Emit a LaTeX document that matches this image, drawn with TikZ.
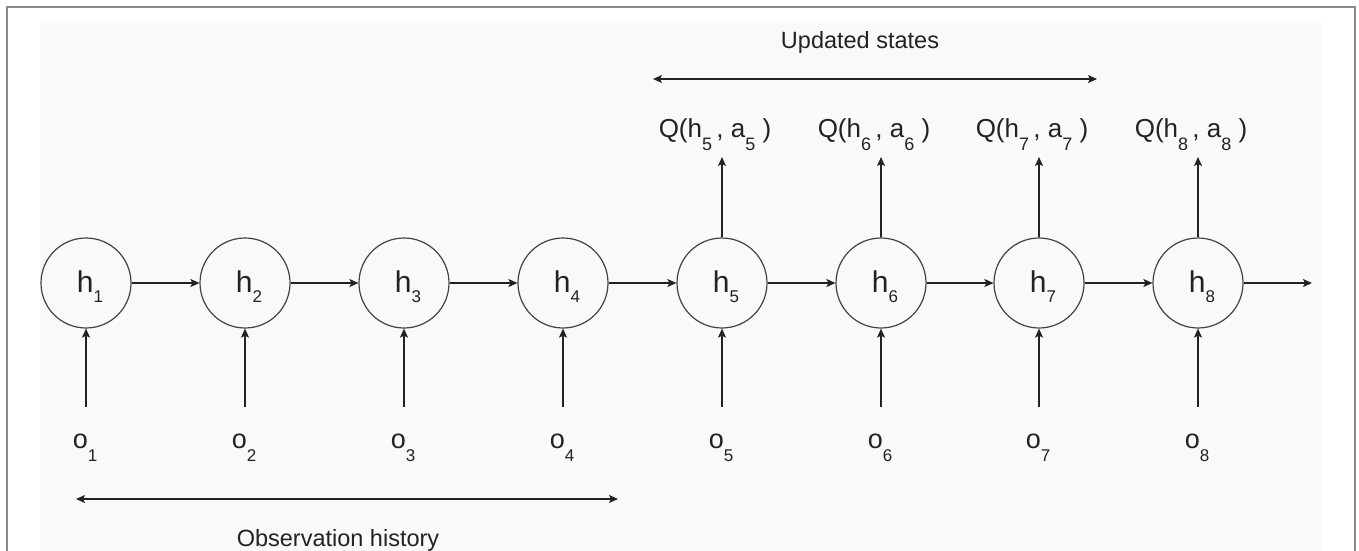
\documentclass[tikz,border=0pt]{standalone}
\usepackage{fontspec}
\setmainfont{Liberation Sans}
\usetikzlibrary{arrows.meta}
\definecolor{bgfill}{HTML}{F9F9F9}
\definecolor{framec}{HTML}{8A8A8A}
\definecolor{inkc}{HTML}{222222}
\newcommand{\lowsub}[3]{\raisebox{-#1pt}{\fontsize{#3}{#3}\selectfont #2}}
\tikzset{
  circ/.style={circle, draw=inkc!85, line width=1.2pt, minimum size=90pt, inner sep=0pt},
  arr/.style={draw=inkc, line width=1.3pt, -{Stealth[length=9pt,width=8pt,inset=2pt]}},
  darr/.style={draw=inkc, line width=1.3pt, {Stealth[length=9pt,width=8pt,inset=2pt]}-{Stealth[length=9pt,width=8pt,inset=2pt]}},
  hlab/.style={anchor=base, inner sep=0pt, text=inkc, font=\fontsize{30}{30}\selectfont},
  olab/.style={anchor=base, inner sep=0pt, text=inkc, font=\fontsize{27}{27}\selectfont},
  qlab/.style={anchor=base, inner sep=0pt, text=inkc, font=\fontsize{26}{26}\selectfont},
  tlab/.style={anchor=base, inner sep=0pt, text=inkc, font=\fontsize{23.5}{23.5}\selectfont},
}
\begin{document}
\begin{tikzpicture}[x=1pt,y=-1pt]
\useasboundingbox (0,0) rectangle (1359,550);
\fill[white] (0,0) rectangle (1359,550);
\draw[framec, line width=2pt] (7,570) -- (7,7) -- (1355,7) -- (1355,570);
\fill[bgfill] (40,23) rectangle (1322,560);

\foreach \i/\x in {1/86,2/245,3/404,4/563,5/722,6/881,7/1039,8/1198}{
  \node[circ] (h\i) at (\x,283) {};
  \node[hlab] (hl\i) at (\x+4,292) {h\lowsub{10}{\i}{17}};
  \node[olab] (o\i) at (\x-1,448) {o\lowsub{13}{\i}{17}};
  \coordinate (oa\i) at (\x,407);
  \draw[arr] (oa\i) -- (h\i.south);
}
\foreach \i/\j in {1/2,2/3,3/4,4/5,5/6,6/7,7/8}{
  \draw[arr] (h\i.east) -- (h\j.west);
}
\coordinate (hend) at (1312,283);
\draw[arr] (h8.east) -- (hend);

\foreach \i/\x in {5/722,6/881,7/1039,8/1198}{
  \coordinate (qa\i) at (\x,157);
  \draw[arr] (h\i.north) -- (qa\i);
  \node[qlab] (q\i) at (\x-7,137) {Q(h\lowsub{13}{\i}{18}\,, a\lowsub{13}{\i}{18} )};
}

\coordinate (usL) at (653,79);
\coordinate (usR) at (1097,79);
\draw[darr] (usL) -- (usR);
\node[tlab] (us) at (860,48) {Updated states};

\coordinate (ohL) at (76,499);
\coordinate (ohR) at (618,499);
\draw[darr] (ohL) -- (ohR);
\node[tlab] (oh) at (338,546) {Observation history};
\end{tikzpicture}
\end{document}
